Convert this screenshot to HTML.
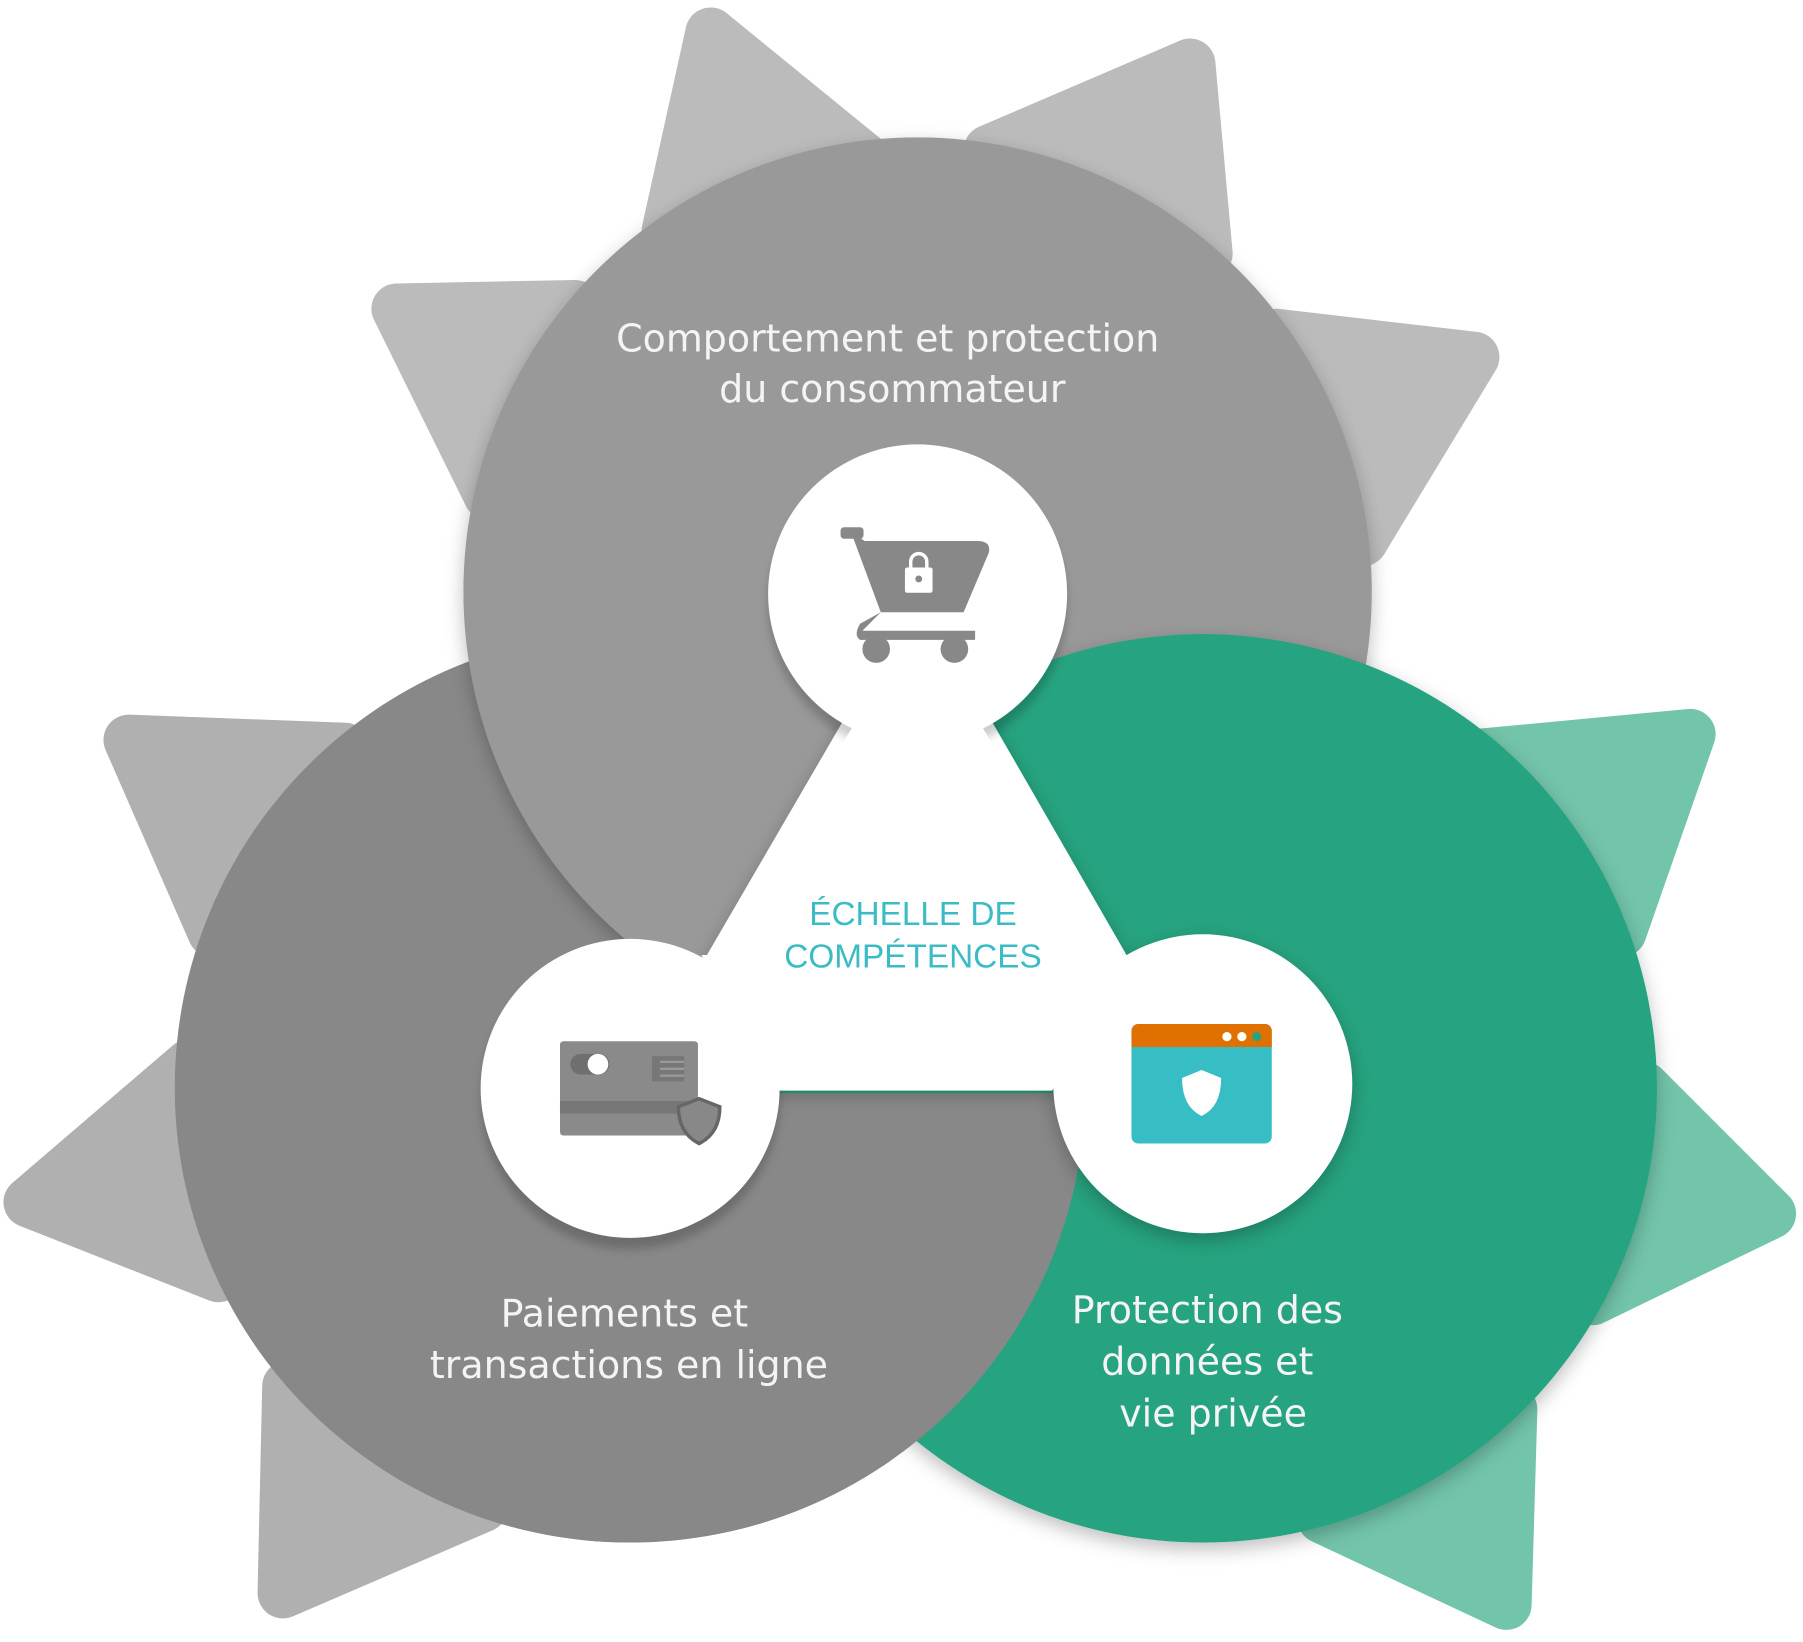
<!DOCTYPE html>
<html><head><meta charset="utf-8"><style>
html,body{margin:0;padding:0;background:#fff;}
svg{display:block;}
text{font-family:"Liberation Sans","DejaVu Sans",sans-serif;}
.lab text{font-family:"DejaVu Sans","Liberation Sans",sans-serif;}
</style></head><body>
<svg width="1803" height="1642" viewBox="0 0 1568 1427" xmlns="http://www.w3.org/2000/svg">
<defs>
<filter id="sh" x="-20%" y="-20%" width="140%" height="140%">
<feDropShadow dx="0" dy="6" stdDeviation="8" flood-color="#000" flood-opacity="0.25"/>
</filter>
<filter id="sh2" x="-20%" y="-20%" width="140%" height="140%">
<feDropShadow dx="0" dy="10" stdDeviation="4" flood-color="#000" flood-opacity="0.2"/>
</filter>
<clipPath id="lowclip"><rect x="0" y="950" width="1568" height="500"/></clipPath>
</defs>
<g stroke-linejoin="round" stroke-width="44">
<g fill="#bbbbbb" stroke="#bbbbbb">
<polygon points="580,200 618,28 780,160"/>
<polygon points="860,130 1035,55 1050,220"/>
<polygon points="1110,290 1282,310 1185,470"/>
<polygon points="500,265 345,268 425,430"/>
</g>
<g fill="#b0b0b0" stroke="#b0b0b0">
<polygon points="300,650 112,643 185,810"/>
<polygon points="165,925 25,1045 190,1110"/>
<polygon points="250,1205 246,1385 420,1310"/>
</g>
<g fill="#72c4aa" stroke="#72c4aa">
<polygon points="1290,655 1470,638 1410,810"/>
<polygon points="1430,945 1540,1055 1385,1130"/>
<polygon points="1150,1320 1310,1395 1315,1225"/>
</g>
</g>
<circle cx="548" cy="945" r="396" fill="#888888"/>
<circle cx="798" cy="514" r="395" fill="#999999" filter="url(#sh)"/>
<circle cx="1046" cy="946" r="395" fill="#26a380" filter="url(#sh)"/>
<circle cx="548" cy="945" r="396" fill="#888888" clip-path="url(#lowclip)"/>
<polygon points="798,515 548,945 1046,945" fill="#ffffff" filter="url(#sh)"/>
<circle cx="798" cy="516" r="130" fill="#fff" filter="url(#sh2)"/>
<circle cx="548" cy="946" r="130" fill="#fff" filter="url(#sh2)"/>
<circle cx="1046" cy="942" r="130" fill="#fff" filter="url(#sh)"/>
<polygon points="798,540 548,945 1046,945" fill="#ffffff"/>
<polygon points="610,830 980,830 915,948 678,948" fill="#ffffff"/>
<!-- cart -->
<g fill="#888888">
<rect x="731" y="458" width="20" height="10" rx="3"/>
<path d="M740 462 L766 532 L838 532 L860 480 Q862 470 850 470 L752 470 Z"/>
<path d="M766 532 L750 548 L848 548 L848 556 L748 556 Q742 552 748 542 Z"/>
<circle cx="762" cy="564" r="12"/>
<circle cx="830" cy="564" r="12"/>
</g>
<rect x="787" y="493" width="24" height="22" rx="2" fill="#fff"/>
<path d="M792 494 v-6 a7 7 0 0 1 14 0 v6" fill="none" stroke="#fff" stroke-width="3"/>
<circle cx="799" cy="503" r="3" fill="#888"/>
<!-- card -->
<rect x="487" y="905" width="120" height="82" rx="3" fill="#8a8a8a"/>
<rect x="487" y="957" width="120" height="11" fill="#777"/>
<rect x="496" y="916" width="34" height="18" rx="9" fill="#6f6f6f"/>
<circle cx="520" cy="925" r="9" fill="#fff"/>
<rect x="567" y="918" width="28" height="22" fill="#777"/>
<g stroke="#999" stroke-width="2"><line x1="574" y1="923" x2="595" y2="923"/><line x1="574" y1="929" x2="595" y2="929"/><line x1="574" y1="935" x2="595" y2="935"/></g>
<path d="M608 955 L626 962 Q626 985 608 994 Q590 985 590 962 Z" fill="#888" stroke="#666" stroke-width="3"/>
<!-- browser -->
<rect x="984" y="890" width="122" height="104" rx="6" fill="#36bec4"/>
<path d="M984 910 V896 a6 6 0 0 1 6 -6 H1100 a6 6 0 0 1 6 6 V910 Z" fill="#e07000"/>
<circle cx="1067" cy="901" r="4" fill="#fff"/><circle cx="1080" cy="901" r="4" fill="#fff"/><circle cx="1093" cy="901" r="4" fill="#26a380"/>
<path d="M1045 930 L1062 937 Q1062 962 1045 970 Q1028 962 1028 937 Z" fill="#fff"/>
<!-- text -->
<g class="lab" fill="#f4f4f4" font-size="33" text-anchor="middle">
<text x="772" y="305">Comportement et protection</text>
<text x="776" y="349">du consommateur</text>
<text x="543" y="1153">Paiements et</text>
<text x="547" y="1198">transactions en ligne</text>
<text x="1050" y="1150">Protection des</text>
<text x="1050" y="1195">données et</text>
<text x="1055" y="1240">vie privée</text>
</g>
<g fill="#3bbcc4" font-size="29" text-anchor="middle">
<text x="794" y="804">ÉCHELLE DE</text>
<text x="794" y="841">COMPÉTENCES</text>
</g>
</svg>
</body></html>
